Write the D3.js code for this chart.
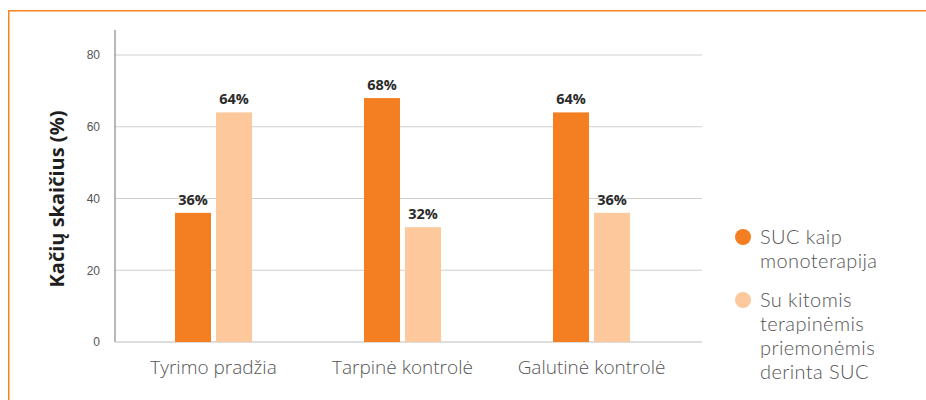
<!DOCTYPE html>
<html>
<head>
<meta charset="utf-8">
<script src="https://cdn.jsdelivr.net/npm/d3@7"></script>
<style>
  body { margin:0; background:#fff; }
  svg { display:block; font-family:"Open Sans","Noto Sans",sans-serif; }
</style>
</head>
<body>
<svg id="chart" width="926" height="400"></svg>
<script>
// data
const categories = ["Tyrimo pradžia", "Tarpinė kontrolė", "Galutinė kontrolė"];
const seriesNames = ["SUC kaip monoterapija", "Su kitomis terapinėmis priemonėmis derinta SUC"];
const mono = [36, 68, 64];
const combined = [64, 32, 36];
const yTicks = [0, 20, 40, 60, 80];
const legendLines = [["SUC kaip", "monoterapija"], ["Su kitomis", "terapinėmis", "priemonėmis", "derinta SUC"]];

const colors = ["#f47f22", "#fcc89c"];
const svg = d3.select("#chart");

// frame
svg.append("path")
  .attr("d", "M8.75,400V10.75H926")
  .attr("fill", "none").attr("stroke", "#f7851f").attr("stroke-width", 1.5);

const plot = { left:115, right:702, top:30, bottom:342 };
const y = d3.scaleLinear().domain([0, 80]).range([plot.bottom, 55]);
const x = d3.scaleBand().domain(categories).range([119, 686]);
const barW = 36, gap = 5;

// grid
svg.append("g").selectAll("line").data(yTicks.filter(d => d > 0)).join("line")
  .attr("x1", plot.left).attr("x2", plot.right)
  .attr("y1", d => y(d)).attr("y2", d => y(d))
  .attr("stroke", "#cfcfcf").attr("stroke-width", 1);

// y axis
const yAxis = svg.append("g").attr("transform", `translate(${plot.left},0)`)
  .call(d3.axisLeft(y).tickValues(yTicks).tickSize(0).tickPadding(15));
yAxis.select(".domain").remove();
yAxis.selectAll("text").attr("font-size", 12).attr("fill", "#555");
svg.append("line").attr("x1", plot.left).attr("x2", plot.left)
  .attr("y1", plot.top).attr("y2", plot.bottom).attr("stroke", "#888").attr("stroke-width", 1.2);
svg.append("line").attr("x1", plot.left).attr("x2", plot.right)
  .attr("y1", plot.bottom).attr("y2", plot.bottom).attr("stroke", "#bbb").attr("stroke-width", 1.2);

// bars
const rows = categories.map((c, i) => [
  { c, s:0, v:mono[i] },
  { c, s:1, v:combined[i] }
]).flat();
const bx = d => x(d.c) + x.bandwidth()/2 + (d.s === 0 ? -gap/2 - barW : gap/2);

svg.append("g").selectAll("rect").data(rows).join("rect")
  .attr("x", bx).attr("width", barW)
  .attr("y", d => y(d.v)).attr("height", d => plot.bottom - y(d.v))
  .attr("fill", d => colors[d.s]);

svg.append("g").selectAll("text").data(rows).join("text")
  .attr("x", d => bx(d) + barW/2).attr("y", d => y(d.v) - 8)
  .attr("text-anchor", "middle").attr("font-size", 14.5).attr("font-weight", "bold")
  .attr("fill", "#2b2b2b").text(d => d.v + "%");

// x labels
svg.append("g").selectAll("text").data(categories).join("text")
  .attr("x", d => x(d) + x.bandwidth()/2).attr("y", 374)
  .attr("text-anchor", "middle").attr("font-size", 19).attr("font-weight", 300)
  .attr("fill", "#555").text(d => d);

// y title
svg.append("text")
  .attr("transform", "translate(64,199) rotate(-90)")
  .attr("text-anchor", "middle").attr("font-size", 20).attr("font-weight", "bold")
  .attr("fill", "#1f1f1f").text("Kačių skaičius (%)");

// legend (one text per line, Lato keeps the line box within the 24px leading)
const legendY = [237, 300];
const lg = svg.append("g").selectAll("g").data(seriesNames).join("g")
  .attr("transform", (d, i) => `translate(743,${legendY[i]})`);
lg.append("circle").attr("r", 8).attr("fill", (d, i) => colors[i]);
lg.selectAll("text").data((d, i) => legendLines[i]).join("text")
  .attr("x", 17).attr("y", (d, j) => 7 + j * 24)
  .attr("font-family", "Lato, 'Open Sans', sans-serif")
  .attr("font-size", 20).attr("font-weight", 300).attr("letter-spacing", 0.4)
  .attr("fill", "#555").text(d => d);
</script>
</body>
</html>
